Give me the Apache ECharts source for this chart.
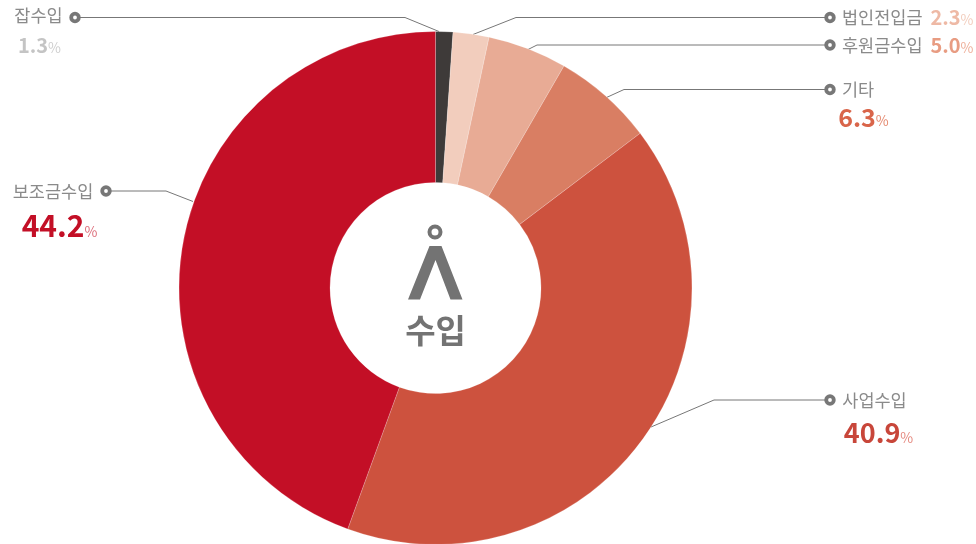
<!DOCTYPE html>
<html>
<head>
<meta charset="utf-8">
<title>수입</title>
<style>
  html, body { margin: 0; padding: 0; background: #fff; }
  #show { width: 976px; height: 544px; }
</style>
<script src="https://cdn.jsdelivr.net/npm/echarts@6/dist/echarts.min.js"></script>
</head>
<body>
<div id="show"></div>
<script>
var categories = ['잡수입', '법인전입금', '후원금수입', '기타', '사업수입', '보조금수입'];
// printed percentages
var labelValues = ['1.3', '2.3', '5.0', '6.3', '40.9', '44.2'];
// slice sizes as measured from the arcs, they differ a little from the printed numbers
var values = [1.09, 2.26, 5.0, 6.35, 40.86, 44.44];
var sliceColors = ['#3e3a39', '#f2cdbd', '#e8ab95', '#d97e63', '#cd523e', '#c30f26'];
var valueColors = ['#c4c4c4', '#eeb9a5', '#e89c82', '#d9654a', '#c8463a', '#c30f26'];
var percentColors = ['#cfcfcf', '#f2cdbd', '#eeb09b', '#e58a70', '#e58a80', '#dd6f7c'];
var valueSizes = [20, 20, 20, 25, 27, 30];

// 标签位置和引导线，顺序同 categories
var labelSpots = [
  { x: 38.5, y: 5, align: 'center', lineH: 40, shift: 2 },
  { x: 842, y: 7, align: 'left' },
  { x: 842, y: 35, align: 'left' },
  { x: 858, y: 79, align: 'center', lineH: 36, shift: 11 },
  { x: 874.5, y: 390, align: 'center', lineH: 46, shift: 8 },
  { x: 53, y: 181, align: 'center', lineH: 50, shift: 13 }
];
var guideLines = [
  [[439, 31.5], [405, 17.5], [75, 17.5]],
  [[473, 34.5], [516, 17.5], [830, 17.5]],
  [[528, 49.5], [537, 45], [830, 45]],
  [[606.5, 97.5], [624, 89.5], [830, 89.5]],
  [[651, 427], [714, 400], [830, 400]],
  [[193, 201.5], [166, 191], [106, 191]]
];

var font = '"Noto Sans CJK KR", "Noto Sans", sans-serif';
var richStyles = { n: { fontFamily: font, fontSize: 17.5, color: '#8a8a8a', lineHeight: 20 } };
categories.forEach(function (name, i) {
  var spot = labelSpots[i];
  richStyles['v' + i] = {
    fontFamily: font, fontSize: valueSizes[i], fontWeight: 'bold', color: valueColors[i],
    lineHeight: spot.lineH || 20,
    padding: [0, 0, 0, spot.lineH ? spot.shift : 8]
  };
  richStyles['p' + i] = {
    fontFamily: font, fontSize: 14, color: percentColors[i], lineHeight: 14,
    verticalAlign: 'middle',
    padding: [(valueSizes[i] * 0.36 - 5) * 2, 0, 0, 0]
  };
});

var dots = guideLines.map(function (pts) {
  return {
    type: 'circle',
    z: 100,
    shape: { cx: pts[2][0], cy: pts[2][1], r: 3.8 },
    style: { fill: '#fff', stroke: '#777', lineWidth: 3.8 }
  };
});

var myChart = echarts.init(document.getElementById('show'), null, { renderer: 'canvas' });
myChart.setOption({
  animation: false,
  series: [{
    type: 'pie',
    center: [435.5, 288],
    radius: [105.5, 256.5],
    startAngle: 90,
    clockwise: true,
    avoidLabelOverlap: false,
    itemStyle: { borderColor: '#fff', borderWidth: 0.2 },
    emphasis: { disabled: true },
    data: categories.map(function (name, i) {
      return { name: name, value: values[i], itemStyle: { color: sliceColors[i] } };
    }),
    label: {
      show: true,
      position: 'outside',
      rich: richStyles,
      formatter: function (p) {
        var i = p.dataIndex;
        var sep = labelSpots[i].lineH ? '\n' : '';
        return '{n|' + p.name + '}' + sep + '{v' + i + '|' + labelValues[i] + '}{p' + i + '|%}';
      }
    },
    labelLine: { show: true, lineStyle: { color: '#777', width: 1 } },
    labelLayout: function (p) {
      var s = labelSpots[p.dataIndex];
      return {
        x: s.x,
        y: s.y,
        align: s.align,
        verticalAlign: 'top',
        labelLinePoints: guideLines[p.dataIndex]
      };
    }
  }],
  graphic: dots.concat([
    {
      type: 'circle', z: 100,
      shape: { cx: 435, cy: 232, r: 5.5 },
      style: { fill: '#fff', stroke: '#737373', lineWidth: 4 }
    },
    {
      type: 'polygon', z: 100,
      shape: { points: [[429.5, 246], [441.5, 246], [462.5, 299.5], [450.5, 299.5], [435.5, 260], [420, 299.5], [408, 299.5]] },
      style: { fill: '#737373' }
    },
    {
      type: 'text', z: 100,
      x: 435.5, y: 330,
      style: {
        text: '수입', fontFamily: font, fontSize: 33, fontWeight: 'bold',
        fill: '#737373', textAlign: 'center', textVerticalAlign: 'middle'
      }
    }
  ])
});
</script>
</body>
</html>
